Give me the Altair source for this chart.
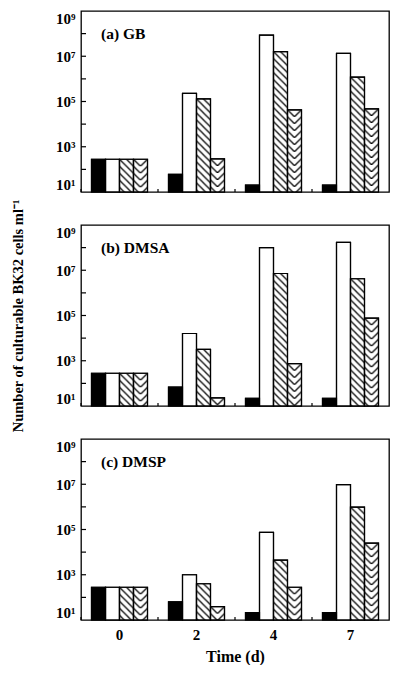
import base64
import altair as alt
import pandas as pd

# ---------------- data ----------------
TIMES = ["0", "2", "4", "7"]
SERIES = ["solid", "open", "hatched", "chevron"]

GB_SOLID = [280, 60, 20, 20]
GB_OPEN = [280, 2.3e5, 8.5e7, 1.35e7]
GB_HATCHED = [280, 1.3e5, 1.6e7, 1.2e6]
GB_CHEVRON = [280, 290, 4.3e4, 4.7e4]

DMSA_SOLID = [280, 68, 22, 22]
DMSA_OPEN = [280, 1.6e4, 1.0e8, 1.7e8]
DMSA_HATCHED = [280, 3.2e3, 7.2e6, 4.2e6]
DMSA_CHEVRON = [280, 23, 740, 7.6e4]

DMSP_SOLID = [280, 64, 21, 21]
DMSP_OPEN = [280, 1.0e3, 7.4e4, 9.7e6]
DMSP_HATCHED = [280, 400, 4.4e3, 9.8e5]
DMSP_CHEVRON = [280, 39, 280, 2.5e4]

PANEL_LABELS = ["(a) GB", "(b) DMSA", "(c) DMSP"]
DECADES = [1e2, 1e3, 1e4, 1e5, 1e6, 1e7, 1e8]
Y_VALUES = [1e1, 1e2, 1e3, 1e4, 1e5, 1e6, 1e7, 1e8, 1e9]

SERIF = "Liberation Serif"
W, H = 308, 181


def svg_uri(svg):
    return "data:image/svg+xml;base64," + base64.b64encode(svg.encode()).decode()


HATCH_URI = svg_uri(
    "<svg xmlns='http://www.w3.org/2000/svg'><defs>"
    "<pattern id='p' width='7' height='7' patternUnits='userSpaceOnUse'>"
    "<path d='M-1,-1 L8,8 M-1,6 L1,8 M6,-1 L8,1' stroke='black' stroke-width='1.3' fill='none'/>"
    "</pattern></defs><rect width='100%' height='100%' fill='url(#p)'/></svg>"
)
CHEVRON_URI = svg_uri(
    "<svg xmlns='http://www.w3.org/2000/svg'><defs>"
    "<pattern id='q' width='14' height='7' patternUnits='userSpaceOnUse'>"
    "<path d='M-1,-1 L7,7 L15,-1 M-1,6 L1,8 M13,8 L15,6' stroke='black' stroke-width='1.3' fill='none'/>"
    "</pattern></defs><rect width='100%' height='100%' fill='url(#q)'/></svg>"
)


def make_df(solid, open_, hatched, chevron):
    rows = []
    for s, vals in zip(SERIES, [solid, open_, hatched, chevron]):
        for t, v in zip(TIMES, vals):
            rows.append({"time": t, "series": s, "value": v})
    return pd.DataFrame(rows)


def panel(df, label, show_x, show_ytitle):
    yscale = alt.Scale(type="log", domain=[10, 1e9], nice=False)
    xscale = alt.Scale(paddingInner=0, paddingOuter=0)
    if show_x:
        xaxis = alt.Axis(title="Time (d)", labelAngle=0, ticks=False, tickSize=0,
                         domain=False, grid=False, labelPadding=7, titlePadding=6)
    else:
        xaxis = alt.Axis(title=None, labels=False, ticks=False, tickSize=0,
                         domain=False, grid=False)
    yaxis = alt.Axis(
        values=Y_VALUES,
        labelExpr="round(log(datum.value)/LN10) % 2 == 1 ? '10' + substring('⁰¹²³⁴⁵⁶⁷⁸⁹', round(log(datum.value)/LN10), round(log(datum.value)/LN10)+1) : ''",
        ticks=False, tickSize=0, domain=False, grid=False, labelPadding=6,
        labelFlush=True,
        title="Number of culturable BK32 cells ml⁻¹" if show_ytitle else None,
        titlePadding=30,
    )
    base = alt.Chart(df).encode(
        x=alt.X("time:N", sort=TIMES, scale=xscale, axis=xaxis),
        xOffset=alt.XOffset("series:N", sort=SERIES,
                            scale=alt.Scale(domain=SERIES, paddingInner=0, paddingOuter=0.75)),
        y=alt.Y("value:Q", scale=yscale, axis=yaxis),
        y2=alt.datum(10),
    )
    bars = base.mark_bar(stroke="black", strokeWidth=1.2).encode(
        color=alt.Color("series:N", scale=alt.Scale(domain=SERIES, range=["black", "white", "white", "white"]),
                        legend=None)
    )
    hatch = base.transform_filter(alt.datum.series == "hatched").mark_image(aspect=False).encode(
        url=alt.value(HATCH_URI))
    chev = base.transform_filter(alt.datum.series == "chevron").mark_image(aspect=False).encode(
        url=alt.value(CHEVRON_URI))
    outline = base.mark_bar(fillOpacity=0, stroke="black", strokeWidth=1.2)

    yticks = alt.Chart(pd.DataFrame({"value": DECADES})).mark_rule(color="black", strokeWidth=1.2).encode(
        y=alt.Y("value:Q", scale=yscale, axis=yaxis), x=alt.value(0), x2=alt.value(5))
    xticks = alt.Chart(pd.DataFrame({"time": TIMES})).mark_rule(color="black", strokeWidth=1.2).encode(
        x=alt.X("time:N", sort=TIMES, scale=xscale, axis=xaxis, bandPosition=0),
        y=alt.value(H), y2=alt.value(H - 3))
    txt = alt.Chart(pd.DataFrame({"label": [label]})).mark_text(
        align="left", baseline="middle", font=SERIF, fontWeight="bold", fontSize=15.5).encode(
        text="label:N", x=alt.value(20), y=alt.value(23))
    return alt.layer(bars, hatch, chev, outline, yticks, xticks, txt).properties(width=W, height=H)


pa = panel(make_df(GB_SOLID, GB_OPEN, GB_HATCHED, GB_CHEVRON), PANEL_LABELS[0], False, False)
pb = panel(make_df(DMSA_SOLID, DMSA_OPEN, DMSA_HATCHED, DMSA_CHEVRON), PANEL_LABELS[1], False, True)
pc = panel(make_df(DMSP_SOLID, DMSP_OPEN, DMSP_HATCHED, DMSP_CHEVRON), PANEL_LABELS[2], True, False)

chart = alt.vconcat(pa, pb, pc, spacing=33, bounds="flush").properties(
    padding={"left": 1, "top": 2, "right": 0, "bottom": 0}
).configure_view(stroke="black", strokeWidth=1.3).configure_axis(
    labelFont=SERIF, labelFontWeight="bold", labelFontSize=15, labelColor="black",
    titleFont=SERIF, titleFontWeight="bold", titleFontSize=14.5, titleColor="black",
).configure_axisX(titleFontSize=16)

chart.save("out.html", embed_options={"renderer": "svg", "actions": False})
